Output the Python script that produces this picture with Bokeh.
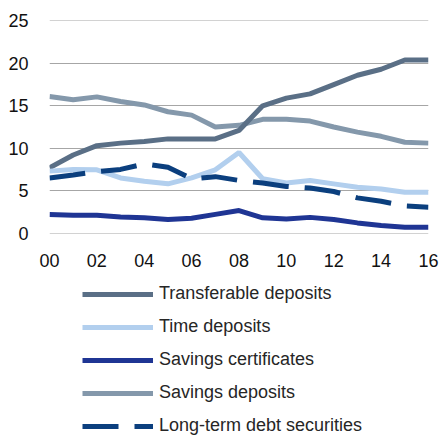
from bokeh.plotting import figure
from bokeh.models import Legend, LegendItem, FixedTicker, Range1d
from bokeh.layouts import column
from bokeh.embed import file_html
from bokeh.resources import INLINE

years = list(range(2000, 2017))
year_labels = ["00", "02", "04", "06", "08", "10", "12", "14", "16"]

transferable = [7.7, 9.2, 10.3, 10.6, 10.8, 11.1, 11.1, 11.1, 12.1, 15.0, 15.9, 16.4, 17.5, 18.6, 19.3, 20.4, 20.4]
time_dep = [7.3, 7.5, 7.45, 6.5, 6.1, 5.8, 6.5, 7.45, 9.5, 6.4, 5.9, 6.2, 5.8, 5.4, 5.2, 4.8, 4.8]
savings_cert = [2.2, 2.1, 2.1, 1.9, 1.8, 1.6, 1.75, 2.2, 2.65, 1.8, 1.65, 1.85, 1.6, 1.2, 0.9, 0.7, 0.7]
savings_dep = [16.1, 15.7, 16.05, 15.5, 15.1, 14.3, 13.9, 12.5, 12.7, 13.4, 13.4, 13.2, 12.5, 11.9, 11.4, 10.7, 10.6]
lt_debt = [6.5, 6.85, 7.25, 7.5, 8.15, 7.75, 6.4, 6.65, 6.2, 5.9, 5.5, 5.3, 4.9, 4.15, 3.75, 3.2, 3.05]

series_names = ["Transferable deposits", "Time deposits", "Savings certificates",
                "Savings deposits", "Long-term debt securities"]
y_ticks = [0, 5, 10, 15, 20, 25]

font = "Liberation Sans"
fs = "18px"
lw = 5
styles = [
    dict(line_color="#5a6f86", line_width=lw),
    dict(line_color="#b2cfee", line_width=lw),
    dict(line_color="#1f3594", line_width=lw),
    dict(line_color="#8498ab", line_width=lw),
    dict(line_color="#0b3f7e", line_width=lw, line_dash="36 16"),
]
data = [transferable, time_dep, savings_cert, savings_dep, lt_debt]

p = figure(width=439, height=270, output_backend="svg", toolbar_location=None,
           x_range=Range1d(2000, 2016), y_range=Range1d(-0.05, 25.05),
           min_border_left=49, min_border_right=11, min_border_top=20,
           min_border_bottom=37)
p.outline_line_color = None

p.xaxis.ticker = FixedTicker(ticks=list(range(2000, 2017, 2)))
p.xaxis.major_label_overrides = {y: lab for y, lab in zip(range(2000, 2017, 2), year_labels)}
p.yaxis.ticker = FixedTicker(ticks=y_ticks)
for ax in (p.xaxis[0], p.yaxis[0]):
    ax.axis_line_color = None
    ax.major_tick_line_color = None
    ax.minor_tick_line_color = None
    ax.major_label_text_font = font
    ax.major_label_text_font_size = fs
    ax.major_label_text_color = "#111111"
p.yaxis.major_label_standoff = 15
p.xaxis.major_label_standoff = 14
p.xgrid.grid_line_color = None
p.ygrid.grid_line_color = "#a6a6a6"
p.ygrid.grid_line_width = 1

rs = [p.line(years, d, **s) for d, s in zip(data, styles)]
p.renderers = [rs[3], rs[0], rs[1], rs[4], rs[2]]

# legend panel below the chart
q = figure(width=439, height=166, output_backend="svg", toolbar_location=None,
           x_range=Range1d(0, 1), y_range=Range1d(0, 1),
           x_axis_type=None, y_axis_type=None, min_border=0)
q.outline_line_color = None
q.grid.grid_line_color = None
qrs = [q.line(years, d, **s) for d, s in zip(data, styles)]

legend = Legend(items=[LegendItem(label=n, renderers=[r]) for n, r in zip(series_names, qrs)],
                location=(33, 0), orientation="vertical")
legend.glyph_width = 71
legend.glyph_height = 20
legend.label_height = 20
legend.spacing = 12
legend.label_standoff = 6
legend.label_text_font = font
legend.label_text_font_size = fs
legend.label_text_color = "#262626"
legend.border_line_color = None
legend.background_fill_alpha = 0
legend.padding = 0
legend.margin = 0
q.add_layout(legend, "center")

layout = column(p, q, spacing=0)
open("out.html", "w").write(file_html(layout, INLINE))
